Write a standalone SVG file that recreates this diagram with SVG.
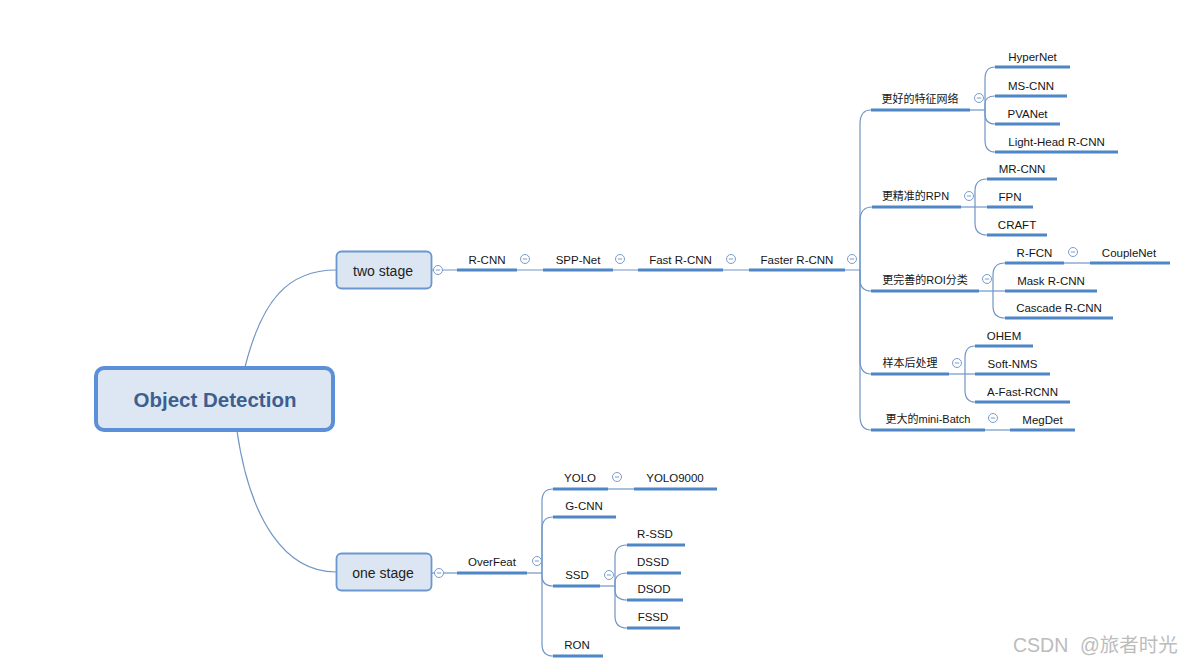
<svg xmlns="http://www.w3.org/2000/svg" width="1190" height="666" viewBox="0 0 1190 666">
<style>
.ln{fill:none;stroke:#7096c6;stroke-width:1.2}
.ul{stroke:#4f86c6;stroke-width:3}
.t{font-family:"Liberation Sans","Noto Sans CJK SC",sans-serif;font-size:11.5px;fill:#151515;text-anchor:middle}
.c{font-family:"Liberation Sans","Noto Sans CJK SC",sans-serif;font-size:11px;fill:#151515;text-anchor:middle}
.col circle{fill:#fff;stroke:#7a9ccb;stroke-width:1}
.col line{stroke:#7a9ccb;stroke-width:1}
</style>
<defs>
<g id="cb" class="col"><circle r="4.5"/><line x1="-2.2" y1="0" x2="2.2" y2="0"/></g>
</defs>
<rect width="1190" height="666" fill="#ffffff"/>

<g id="connectors">
<path class="ln" d="M245,367 C262,300 288,270 336,270"/>
<path class="ln" d="M237,431 C250,520 285,572 336,572"/>
<path class="ln" d="M432,270 L860,270"/>
<path class="ln" d="M860,270 L860,124 Q860,110 871,110"/>
<path class="ln" d="M860,270 L860,221 Q860,207 872,207"/>
<path class="ln" d="M860,270 L860,279 Q860,291 871,291"/>
<path class="ln" d="M860,270 L860,360 Q860,374 871,374"/>
<path class="ln" d="M860,270 L860,416 Q860,430 871,430"/>
<path class="ln" d="M970,110 L985,110"/>
<path class="ln" d="M985,110 L985,79 Q985,67 995,67"/>
<path class="ln" d="M985,110 L985,104 Q985,96 995,96"/>
<path class="ln" d="M985,110 L985,114 Q985,124 995,124"/>
<path class="ln" d="M985,110 L985,140 Q985,152 995,152"/>
<path class="ln" d="M961,207 L987,207"/>
<path class="ln" d="M975,207 L975,191 Q975,179 987,179"/>
<path class="ln" d="M975,207 L975,223 Q975,235 987,235"/>
<path class="ln" d="M979,291 L1005,291"/>
<path class="ln" d="M993,291 L993,275 Q993,263 1005,263"/>
<path class="ln" d="M993,291 L993,306 Q993,318 1005,318"/>
<path class="ln" d="M1064,263 L1090,263"/>
<path class="ln" d="M949,374 L975,374"/>
<path class="ln" d="M965,374 L965,358 Q965,346 975,346"/>
<path class="ln" d="M965,374 L965,390 Q965,402 975,402"/>
<path class="ln" d="M985,430 L1010,430"/>
<path class="ln" d="M432,573 L457,573"/>
<path class="ln" d="M527,573 L542,573"/>
<path class="ln" d="M542,573 L542,501 Q542,489 553,489"/>
<path class="ln" d="M542,573 L542,529 Q542,517 553,517"/>
<path class="ln" d="M542,573 L542,576 Q542,586 553,586"/>
<path class="ln" d="M542,573 L542,644 Q542,656 553,656"/>
<path class="ln" d="M608,489 L634,489"/>
<path class="ln" d="M600,586 L615,586"/>
<path class="ln" d="M615,586 L615,557 Q615,545 627,545"/>
<path class="ln" d="M615,586 L615,583 Q615,573 627,573"/>
<path class="ln" d="M615,586 L615,590 Q615,600 627,600"/>
<path class="ln" d="M615,586 L615,616 Q615,628 627,628"/>
</g>

<g id="root">
<rect x="96" y="368" width="237" height="62" rx="8" fill="#dde7f3" stroke="#5b8fd8" stroke-width="4"/>
<text x="215" y="407" font-family="Liberation Sans, Noto Sans CJK SC, sans-serif" font-size="20.5" font-weight="bold" fill="#3d5f8f" text-anchor="middle">Object Detection</text>
</g>

<g id="two-stage">
<rect x="336.5" y="251.5" width="95" height="37" rx="5" fill="#dce6f2" stroke="#6b97d0" stroke-width="1.8"/>
<text x="383" y="276" font-family="Liberation Sans, Noto Sans CJK SC, sans-serif" font-size="14" fill="#222" text-anchor="middle">two stage</text>
<use href="#cb" x="438" y="270"/>
</g>

<g id="one-stage">
<rect x="336.5" y="553.5" width="95" height="37" rx="5" fill="#dce6f2" stroke="#6b97d0" stroke-width="1.8"/>
<text x="383" y="578" font-family="Liberation Sans, Noto Sans CJK SC, sans-serif" font-size="14" fill="#222" text-anchor="middle">one stage</text>
<use href="#cb" x="439" y="573"/>
</g>

<g id="r-cnn"><line class="ul" x1="457" y1="270" x2="517" y2="270"/><text class="t" x="487" y="263.5">R-CNN</text><use href="#cb" x="525" y="259"/></g>
<g id="spp-net"><line class="ul" x1="543" y1="270" x2="613" y2="270"/><text class="t" x="578" y="263.5">SPP-Net</text><use href="#cb" x="620" y="259"/></g>
<g id="fast-r-cnn"><line class="ul" x1="638" y1="270" x2="723" y2="270"/><text class="t" x="680.5" y="263.5">Fast R-CNN</text><use href="#cb" x="731" y="259"/></g>
<g id="faster-r-cnn"><line class="ul" x1="749" y1="270" x2="845" y2="270"/><text class="t" x="797" y="263.5">Faster R-CNN</text><use href="#cb" x="852" y="259"/></g>

<g id="better-feature"><line class="ul" x1="871" y1="110" x2="970" y2="110"/><text class="c" x="920" y="103">更好的特征网络</text><use href="#cb" x="979" y="98"/></g>
<g id="hypernet"><line class="ul" x1="995" y1="67" x2="1070" y2="67"/><text class="t" x="1032.5" y="61">HyperNet</text></g>
<g id="ms-cnn"><line class="ul" x1="995" y1="96" x2="1067" y2="96"/><text class="t" x="1031" y="90">MS-CNN</text></g>
<g id="pvanet"><line class="ul" x1="995" y1="124" x2="1060" y2="124"/><text class="t" x="1027.5" y="118">PVANet</text></g>
<g id="light-head"><line class="ul" x1="995" y1="152" x2="1118" y2="152"/><text class="t" x="1056.5" y="146">Light-Head R-CNN</text></g>

<g id="better-rpn"><line class="ul" x1="872" y1="207" x2="961" y2="207"/><text class="c" x="915.5" y="200">更精准的RPN</text><use href="#cb" x="969" y="196"/></g>
<g id="mr-cnn"><line class="ul" x1="987" y1="179" x2="1057" y2="179"/><text class="t" x="1022" y="173">MR-CNN</text></g>
<g id="fpn"><line class="ul" x1="987" y1="207" x2="1033" y2="207"/><text class="t" x="1010" y="201">FPN</text></g>
<g id="craft"><line class="ul" x1="987" y1="235" x2="1047" y2="235"/><text class="t" x="1017" y="229">CRAFT</text></g>

<g id="better-roi"><line class="ul" x1="871" y1="291" x2="979" y2="291"/><text class="c" x="925" y="284">更完善的ROI分类</text><use href="#cb" x="987" y="279"/></g>
<g id="r-fcn"><line class="ul" x1="1005" y1="263" x2="1064" y2="263"/><text class="t" x="1034.5" y="257">R-FCN</text><use href="#cb" x="1073" y="252"/></g>
<g id="couplenet"><line class="ul" x1="1090" y1="263" x2="1170" y2="263"/><text class="t" x="1129" y="257">CoupleNet</text></g>
<g id="mask-r-cnn"><line class="ul" x1="1005" y1="291" x2="1097" y2="291"/><text class="t" x="1051" y="285">Mask R-CNN</text></g>
<g id="cascade-r-cnn"><line class="ul" x1="1005" y1="318" x2="1113" y2="318"/><text class="t" x="1059" y="312">Cascade R-CNN</text></g>

<g id="post-process"><line class="ul" x1="871" y1="374" x2="949" y2="374"/><text class="c" x="910" y="367">样本后处理</text><use href="#cb" x="957" y="363"/></g>
<g id="ohem"><line class="ul" x1="975" y1="346" x2="1033" y2="346"/><text class="t" x="1004" y="340">OHEM</text></g>
<g id="soft-nms"><line class="ul" x1="975" y1="374" x2="1050" y2="374"/><text class="t" x="1012.5" y="368">Soft-NMS</text></g>
<g id="a-fast-rcnn"><line class="ul" x1="975" y1="402" x2="1070" y2="402"/><text class="t" x="1022.5" y="396">A-Fast-RCNN</text></g>

<g id="mini-batch"><line class="ul" x1="871" y1="430" x2="985" y2="430"/><text class="c" x="928" y="423">更大的mini-Batch</text><use href="#cb" x="993" y="418"/></g>
<g id="megdet"><line class="ul" x1="1010" y1="430" x2="1075" y2="430"/><text class="t" x="1042.5" y="424">MegDet</text></g>

<g id="overfeat"><line class="ul" x1="457" y1="573" x2="527" y2="573"/><text class="t" x="492" y="566">OverFeat</text><use href="#cb" x="537" y="561"/></g>
<g id="yolo"><line class="ul" x1="553" y1="489" x2="608" y2="489"/><text class="t" x="580" y="482">YOLO</text><use href="#cb" x="617" y="477"/></g>
<g id="yolo9000"><line class="ul" x1="634" y1="489" x2="717" y2="489"/><text class="t" x="675" y="482">YOLO9000</text></g>
<g id="g-cnn"><line class="ul" x1="553" y1="517" x2="616" y2="517"/><text class="t" x="584" y="510">G-CNN</text></g>
<g id="ssd"><line class="ul" x1="553" y1="586" x2="600" y2="586"/><text class="t" x="577" y="579">SSD</text><use href="#cb" x="609" y="575"/></g>
<g id="r-ssd"><line class="ul" x1="627" y1="545" x2="685" y2="545"/><text class="t" x="655" y="538">R-SSD</text></g>
<g id="dssd"><line class="ul" x1="627" y1="573" x2="681" y2="573"/><text class="t" x="653" y="566">DSSD</text></g>
<g id="dsod"><line class="ul" x1="627" y1="600" x2="683" y2="600"/><text class="t" x="654" y="593">DSOD</text></g>
<g id="fssd"><line class="ul" x1="627" y1="628" x2="680" y2="628"/><text class="t" x="653" y="621">FSSD</text></g>
<g id="ron"><line class="ul" x1="553" y1="656" x2="603" y2="656"/><text class="t" x="577" y="649">RON</text></g>

<text x="1013" y="652" font-family="Liberation Sans, Noto Sans CJK SC, sans-serif" font-size="19.5" fill="#bcbcbc">CSDN <tspan x="1080">@旅者时光</tspan></text>
</svg>
